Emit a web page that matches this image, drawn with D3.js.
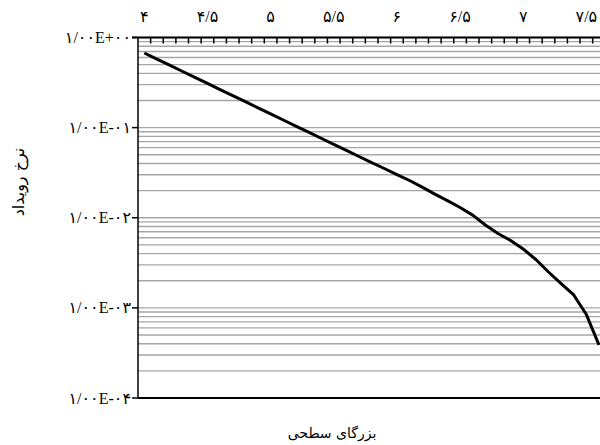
<!DOCTYPE html>
<html>
<head>
<meta charset="utf-8">
<script src="https://cdn.jsdelivr.net/npm/d3@7"></script>
<style>
  html, body { margin: 0; padding: 0; background: #fff; }
  svg { display: block; }
  .lbl { font-family: "Liberation Serif", "DejaVu Serif", "DejaVu Sans", serif; fill: #000; }
  .ttl { font-family: "DejaVu Sans", "Noto Sans", sans-serif; fill: #000; }
</style>
</head>
<body>
<div class="chart"></div>
<script>
// magnitude categories (one point per category)
const magnitudes = ["4.0","4.1","4.2","4.3","4.4","4.5","4.6","4.7","4.8","4.9",
  "5.0","5.1","5.2","5.3","5.4","5.5","5.6","5.7","5.8","5.9",
  "6.0","6.1","6.2","6.3","6.4","6.5","6.6","6.7","6.8","6.9",
  "7.0","7.1","7.2","7.3","7.4","7.5","7.6"];

// annual event rate
const rates = [0.673, 0.576, 0.493, 0.422, 0.361, 0.309, 0.264, 0.227, 0.194, 0.166,
  0.142, 0.1215, 0.104, 0.0891, 0.0762, 0.0653, 0.0558, 0.0478, 0.0408, 0.0352,
  0.0301, 0.0259, 0.0219, 0.0183, 0.0155, 0.0130, 0.0107, 0.0083, 0.00668, 0.00559,
  0.00450, 0.00344, 0.00250, 0.00186, 0.00139, 0.000843, 0.000387];

// tick labels
const xTickCats = ["4.0","4.5","5.0","5.5","6.0","6.5","7.0","7.5"];
const xTickLabels = ["۴","۴/۵","۵","۵/۵","۶","۶/۵","۷","۷/۵"];
const yTickValues = [1, 0.1, 0.01, 0.001, 0.0001];
const yTickLabels = ["۱/۰۰E+۰۰","۱/۰۰E-۰۱","۱/۰۰E-۰۲","۱/۰۰E-۰۳","۱/۰۰E-۰۴"];

const xTitle = "بزرگای سطحی";
const yTitle = "نرخ رویداد";

const width = 600, height = 445;
const plotLeft = 138, plotTop = 37.5, plotBottom = 398;
const band = 12.63;

const svg = d3.select(".chart").append("svg")
  .attr("width", width)
  .attr("height", height);

const x = d3.scaleBand()
  .domain(magnitudes)
  .range([plotLeft, plotLeft + band * magnitudes.length])
  .paddingInner(0).paddingOuter(0);

const y = d3.scaleLog()
  .domain([1e-4, 1])
  .range([plotBottom, plotTop]);

const plotRight = x.range()[1];

// gridlines at every minor log tick
svg.append("g")
  .selectAll("line")
  .data(y.ticks())
  .join("line")
  .attr("x1", plotLeft).attr("x2", plotRight)
  .attr("y1", d => y(d)).attr("y2", d => y(d))
  .attr("stroke", "#a6a6a6")
  .attr("stroke-width", 1.4);

// bottom frame line
svg.append("line")
  .attr("x1", plotLeft).attr("x2", plotRight)
  .attr("y1", plotBottom).attr("y2", plotBottom)
  .attr("stroke", "#000").attr("stroke-width", 2);

// left axis
svg.append("line")
  .attr("x1", plotLeft).attr("x2", plotLeft)
  .attr("y1", plotTop).attr("y2", plotBottom)
  .attr("stroke", "#000").attr("stroke-width", 1.5);

svg.append("g")
  .selectAll("line")
  .data(yTickValues)
  .join("line")
  .attr("x1", plotLeft - 6).attr("x2", plotLeft)
  .attr("y1", d => y(d)).attr("y2", d => y(d))
  .attr("stroke", "#000").attr("stroke-width", 1.5);

svg.append("g")
  .selectAll("text")
  .data(yTickValues)
  .join("text")
  .attr("class", "lbl")
  .style("font-size", "16px")
  .attr("x", plotLeft - 7)
  .attr("y", d => y(d))
  .attr("dy", "0.35em")
  .attr("text-anchor", "end")
  .attr("direction", "ltr")
  .text((d, i) => yTickLabels[i]);

// top axis
svg.append("line")
  .attr("x1", plotLeft - 6).attr("x2", plotRight)
  .attr("y1", plotTop).attr("y2", plotTop)
  .attr("stroke", "#000").attr("stroke-width", 2);

svg.append("g")
  .selectAll("line")
  .data(magnitudes)
  .join("line")
  .attr("x1", d => x(d) + x.bandwidth()).attr("x2", d => x(d) + x.bandwidth())
  .attr("y1", plotTop).attr("y2", plotTop + 6)
  .attr("stroke", "#000").attr("stroke-width", 1.5);

svg.append("g")
  .selectAll("text")
  .data(xTickCats)
  .join("text")
  .attr("class", "lbl")
  .style("font-size", "16px")
  .attr("x", d => x(d) + x.bandwidth() / 2)
  .attr("y", 22)
  .attr("text-anchor", "middle")
  .attr("direction", "ltr")
  .text((d, i) => xTickLabels[i]);

// curve
const line = d3.line()
  .x((d, i) => x(magnitudes[i]) + x.bandwidth() / 2)
  .y(d => y(d));

svg.append("path")
  .datum(rates)
  .attr("d", line)
  .attr("fill", "none")
  .attr("stroke", "#000")
  .attr("stroke-width", 3)
  .attr("stroke-linejoin", "round");

// axis titles
svg.append("text")
  .attr("class", "ttl")
  .style("font-size", "14px")
  .attr("x", 332)
  .attr("y", 438)
  .attr("text-anchor", "middle")
  .text(xTitle);

svg.append("text")
  .attr("class", "ttl")
  .style("font-size", "16px")
  .attr("transform", "translate(24,182) rotate(-90)")
  .attr("text-anchor", "middle")
  .text(yTitle);
</script>
</body>
</html>
